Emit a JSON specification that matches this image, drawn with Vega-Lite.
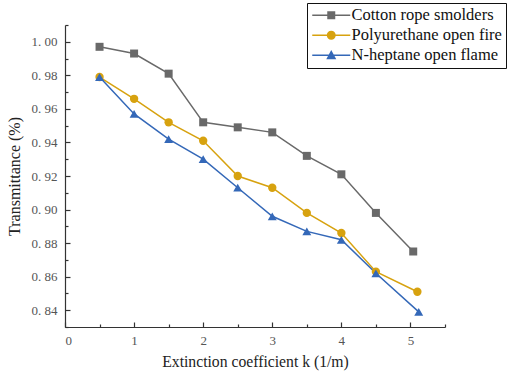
{
  "$schema": "https://vega.github.io/schema/vega-lite/v6.json",
  "width": 380,
  "height": 302,
  "autosize": "none",
  "padding": {"left": 65, "top": 25, "right": 62, "bottom": 51},
  "background": "white",
  "config": {"view": {"stroke": null}, "font": "Liberation Serif"},
  "data": {"values": [
    {"series": "Cotton rope smolders", "k": 0.5, "t": 0.997},
    {"series": "Cotton rope smolders", "k": 1.0, "t": 0.993},
    {"series": "Cotton rope smolders", "k": 1.5, "t": 0.981},
    {"series": "Cotton rope smolders", "k": 2.0, "t": 0.952},
    {"series": "Cotton rope smolders", "k": 2.5, "t": 0.949},
    {"series": "Cotton rope smolders", "k": 3.0, "t": 0.946},
    {"series": "Cotton rope smolders", "k": 3.5, "t": 0.932},
    {"series": "Cotton rope smolders", "k": 4.0, "t": 0.921},
    {"series": "Cotton rope smolders", "k": 4.5, "t": 0.898},
    {"series": "Cotton rope smolders", "k": 5.04, "t": 0.875},
    {"series": "Polyurethane open fire", "k": 0.5, "t": 0.979},
    {"series": "Polyurethane open fire", "k": 1.0, "t": 0.966},
    {"series": "Polyurethane open fire", "k": 1.5, "t": 0.952},
    {"series": "Polyurethane open fire", "k": 2.0, "t": 0.941},
    {"series": "Polyurethane open fire", "k": 2.5, "t": 0.920},
    {"series": "Polyurethane open fire", "k": 3.0, "t": 0.913},
    {"series": "Polyurethane open fire", "k": 3.5, "t": 0.898},
    {"series": "Polyurethane open fire", "k": 4.0, "t": 0.886},
    {"series": "Polyurethane open fire", "k": 4.5, "t": 0.863},
    {"series": "Polyurethane open fire", "k": 5.1, "t": 0.851},
    {"series": "N-heptane open flame", "k": 0.5, "t": 0.979},
    {"series": "N-heptane open flame", "k": 1.0, "t": 0.957},
    {"series": "N-heptane open flame", "k": 1.5, "t": 0.942},
    {"series": "N-heptane open flame", "k": 2.0, "t": 0.930},
    {"series": "N-heptane open flame", "k": 2.5, "t": 0.913},
    {"series": "N-heptane open flame", "k": 3.0, "t": 0.896},
    {"series": "N-heptane open flame", "k": 3.5, "t": 0.887},
    {"series": "N-heptane open flame", "k": 4.0, "t": 0.882},
    {"series": "N-heptane open flame", "k": 4.5, "t": 0.862},
    {"series": "N-heptane open flame", "k": 5.12, "t": 0.839}
  ]},
  "encoding": {
    "x": {
      "field": "k", "type": "quantitative",
      "scale": {"domain": [0, 5.5], "nice": false, "zero": false},
      "axis": {
        "title": "Extinction coefficient k (1/m)",
        "titleFont": "Liberation Serif", "titleFontSize": 15.7, "titleFontWeight": "normal", "titleColor": "#222222",
        "titlePadding": 7,
        "values": [0, 0.5, 1, 1.5, 2, 2.5, 3, 3.5, 4, 4.5, 5, 5.5],
        "labelExpr": "datum.value % 1 == 0 ? format(datum.value, 'd') : ''",
        "labelFont": "Liberation Serif", "labelFontSize": 13, "labelColor": "#555555",
        "labelPadding": 12,
        "domainColor": "#333333", "domainWidth": 1.2,
        "tickColor": "#333333", "tickWidth": 1.2,
        "tickSize": {"condition": {"test": "datum.value % 1 == 0", "value": -5}, "value": -3},
        "grid": false
      }
    },
    "y": {
      "field": "t", "type": "quantitative",
      "scale": {"domain": [0.83, 1.01], "nice": false, "zero": false},
      "axis": {
        "title": "Transmittance (%)",
        "titleFont": "Liberation Serif", "titleFontSize": 16, "titleFontWeight": "normal", "titleColor": "#222222",
        "titlePadding": 9,
        "values": [0.83, 0.84, 0.85, 0.86, 0.87, 0.88, 0.89, 0.9, 0.91, 0.92, 0.93, 0.94, 0.95, 0.96, 0.97, 0.98, 0.99, 1.0, 1.01],
        "labelExpr": "round(datum.value * 100) % 2 == 0 ? replace(format(datum.value, '.2f'), '.', '. ') : ''",
        "labelFont": "Liberation Serif", "labelFontSize": 13, "labelColor": "#555555",
        "labelPadding": 13,
        "domainColor": "#333333", "domainWidth": 1.2,
        "tickColor": "#333333", "tickWidth": 1.2,
        "tickSize": {"condition": {"test": "round(datum.value * 100) % 2 == 0", "value": -5}, "value": -3},
        "grid": false
      }
    },
    "color": {
      "field": "series", "type": "nominal",
      "scale": {
        "domain": ["Cotton rope smolders", "Polyurethane open fire", "N-heptane open flame"],
        "range": ["#696969", "#D7A20F", "#3468B8"]
      },
      "legend": {
        "title": null,
        "orient": "none",
        "legendX": 242,
        "legendY": -22,
        "padding": 4,
        "strokeColor": "#111111",
        "fillColor": "white",
        "labelFont": "Liberation Serif",
        "labelFontSize": 16.5,
        "labelColor": "#111111",
        "labelOffset": 12,
        "symbolOffset": 12,
        "rowPadding": 3,
        "symbolSize": 100,
        "encode": {
          "symbols": {
            "update": {
              "shape": {"signal": "datum.value == 'Cotton rope smolders' ? 'M-3.8,-0.15H3.8V0.15H-3.8Z M-0.8,-0.8H0.8V0.8H-0.8Z' : datum.value == 'Polyurethane open fire' ? 'M-3.8,-0.15H3.8V0.15H-3.8Z M0.9,0A0.9,0.9 0 1,1 -0.9,0A0.9,0.9 0 1,1 0.9,0Z' : 'M-3.8,-0.15H3.8V0.15H-3.8Z M0,-1.05L1,0.8L-1,0.8Z'"},
              "fill": {"signal": "datum.value == 'Cotton rope smolders' ? '#696969' : datum.value == 'Polyurethane open fire' ? '#D7A20F' : '#3468B8'"},
              "fillOpacity": {"value": 1},
              "opacity": {"value": 1},
              "stroke": {"value": "transparent"},
              "strokeWidth": {"value": 0}
            }
          }
        }
      }
    }
  },
  "layer": [
    {"mark": {"type": "line", "strokeWidth": 1.5}},
    {
      "transform": [{"filter": "datum.series == 'Cotton rope smolders'"}],
      "mark": {"type": "point", "shape": "square", "filled": true, "opacity": 1, "size": 64}
    },
    {
      "transform": [{"filter": "datum.series == 'Polyurethane open fire'"}],
      "mark": {"type": "point", "shape": "circle", "filled": true, "opacity": 1, "size": 70}
    },
    {
      "transform": [{"filter": "datum.series == 'N-heptane open flame'"}],
      "mark": {"type": "point", "shape": "triangle-up", "filled": true, "opacity": 1, "size": 80}
    }
  ]
}
